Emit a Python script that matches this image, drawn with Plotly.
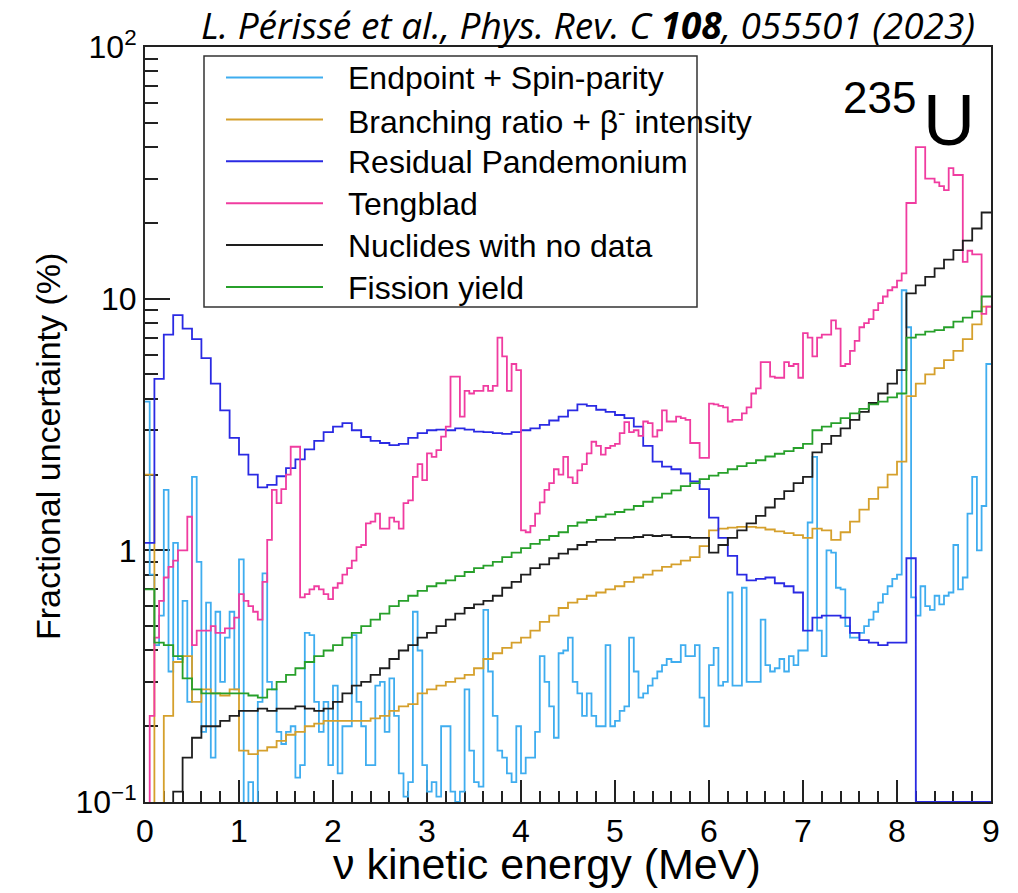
import numpy as np
import plotly.graph_objects as go

# ---------------- data ----------------
E_MAX = 9.0
E_COARSE = np.round(np.arange(0, 9, 0.1), 2)   # lower bin edges, 0.1 MeV bins
E_FINE = np.round(np.arange(0, 9, 0.05), 2)    # lower bin edges, 0.05 MeV bins

ENDPOINT = [
    3.9, 0.8, 0.42, 0.55, 1.74, 0.33, 1.07, 0.37, 0.63, 0.25,
    1.96, 0.9, 0.19, 0.62, 0.15, 0.57, 0.30, 0.45, 0.57, 0.28,
    0.92, 0.09, 0.12, 0.09, 0.25, 0.81, 0.30, 0.28, 0.19, 0.17,
    0.19, 0.20, 0.125, 0.14, 0.47, 0.46, 0.25, 0.19, 0.25, 0.14,
    0.29, 0.13, 0.20, 0.20, 0.46, 0.25, 0.20, 0.14, 0.14, 0.29,
    0.30, 0.19, 0.31, 0.22, 0.13, 0.105, 0.12, 0.57, 0.40, 0.14,
    0.11, 0.12, 0.105, 0.20, 0.20, 0.11, 0.10, 0.11, 0.28, 0.16,
    0.12, 0.115, 0.58, 0.33, 0.22, 0.16, 0.15, 0.13, 0.12, 0.20,
    0.13, 0.15, 0.15, 0.19, 0.38, 0.30, 0.24, 0.18, 0.39, 0.40,
    0.45, 0.30, 0.27, 0.22, 0.27, 0.22, 0.20, 0.20, 0.42, 0.20,
    0.21, 0.23, 0.24, 0.45, 0.33, 0.26, 0.27, 0.29, 0.31, 0.33,
    0.35, 0.37, 0.36, 0.36, 0.42, 0.38, 0.38, 0.42, 0.26, 0.20,
    0.35, 0.41, 0.29, 0.30, 0.68, 0.29, 0.29, 0.71, 0.30, 0.30,
    0.30, 0.53, 0.35, 0.33, 0.34, 0.37, 0.33, 0.38, 0.35, 0.40,
    0.40, 1.29, 2.35, 0.48, 0.38, 1.0, 0.98, 0.71, 0.70, 0.50,
    0.45, 0.45, 0.47, 0.50, 0.53, 0.57, 0.62, 0.67, 0.72, 0.77,
    0.80, 10.8, 7.7, 0.65, 0.55, 0.72, 0.60, 0.58, 0.66, 0.61,
    0.66, 0.68, 1.05, 0.70, 0.78, 1.4, 1.96, 1.0, 1.5, 5.5,
]

BRANCHING = [
    2.00, 0.08, 0.22, 0.36, 0.38, 0.25, 0.28, 0.27, 0.265, 0.28,
    0.16, 0.155, 0.16, 0.165, 0.175, 0.185, 0.19, 0.20, 0.205, 0.21,
    0.21, 0.21, 0.21, 0.21, 0.215, 0.22, 0.23, 0.24, 0.245, 0.27,
    0.28, 0.29, 0.30, 0.31, 0.32, 0.34, 0.37, 0.39, 0.41, 0.43,
    0.45, 0.48, 0.52, 0.55, 0.59, 0.62, 0.64, 0.66, 0.68, 0.70,
    0.72, 0.75, 0.78, 0.80, 0.83, 0.86, 0.88, 0.91, 0.94, 1.04,
    1.20, 1.22, 1.23, 1.24, 1.24, 1.23, 1.21, 1.19, 1.17, 1.15,
    1.12, 1.22, 1.20, 1.10, 1.18, 1.30, 1.45, 1.60, 1.78, 2.00,
    2.25, 4.10, 4.60, 5.00, 5.30, 5.70, 6.20, 6.90, 7.90, 9.30,
]

RESIDUAL = [
    1.07, 4.8, 7.2, 8.6, 7.6, 6.9, 5.8, 4.6, 3.6, 2.8,
    2.4, 2.0, 1.78, 1.82, 1.97, 2.12, 2.30, 2.52, 2.72, 2.95,
    3.10, 3.20, 3.00, 2.82, 2.72, 2.67, 2.62, 2.65, 2.80, 2.92,
    3.00, 3.02, 3.00, 3.05, 3.02, 2.96, 2.95, 2.92, 2.90, 2.95,
    3.00, 3.05, 3.15, 3.28, 3.40, 3.60, 3.80, 3.75, 3.62, 3.55,
    3.45, 3.35, 3.10, 2.60, 2.25, 2.15, 2.10, 2.02, 1.88, 1.75,
    1.35, 1.12, 0.95, 0.80, 0.76, 0.77, 0.78, 0.74, 0.72, 0.68,
    0.48, 0.54, 0.55, 0.55, 0.54, 0.47, 0.44, 0.43, 0.42, 0.43,
    0.43, 0.93, 0.10, 0.10, 0.10, 0.10, 0.10, 0.10, 0.10, 0.10,
]

TENGBLAD = [
    0.05, 0.22, 0.45, 0.63, 0.78, 0.86, 0.91, 1.0, 1.0, 1.36,
    0.42, 0.48, 0.48, 0.48, 0.50, 0.47, 0.47, 0.49, 0.49, 0.54,
    0.67, 0.63, 0.60, 0.57, 0.53, 0.75, 1.10, 1.74, 1.54, 1.75,
    2.0, 2.58, 2.58, 0.65, 0.67, 0.70, 0.72, 0.70, 0.67, 0.64,
    0.71, 0.74, 0.80, 0.85, 0.91, 1.03, 1.05, 1.28, 1.30, 1.40,
    1.22, 1.22, 1.35, 1.30, 1.22, 1.54, 1.58, 1.96, 2.2, 1.9,
    2.43, 2.35, 2.5, 2.83, 3.1, 4.9, 4.9, 3.4, 4.3, 4.2,
    4.3, 4.3, 4.5, 4.3, 4.5, 7.0, 5.9, 4.3, 5.5, 5.2,
    1.2, 1.18, 1.25, 1.4, 1.55, 1.74, 1.85, 2.1, 2.0, 2.35,
    1.95, 1.85, 2.08, 2.2, 2.43, 2.7, 2.6, 2.4, 2.55, 2.6,
    2.65, 2.92, 3.23, 2.95, 3.0, 2.85, 3.25, 3.2, 2.83, 3.0,
    3.6, 3.25, 3.25, 3.4, 3.35, 3.3, 2.67, 2.67, 2.33, 2.33,
    3.83, 3.8, 3.75, 3.7, 3.25, 3.3, 3.3, 3.5, 3.7, 4.2,
    4.4, 5.6, 5.6, 4.9, 4.85, 4.85, 5.6, 5.4, 5.5, 4.85,
    7.3, 7.0, 5.9, 7.0, 7.2, 7.2, 8.2, 7.6, 5.4, 5.5,
    6.2, 6.8, 7.7, 8.0, 8.3, 9.0, 9.6, 10.2, 10.8, 11.1,
    11.8, 12.6, 24, 24, 40, 40, 30, 30, 29, 28,
    27, 33, 31, 31, 14, 15.5, 15, 15, 8.7, 9.3,
]

NUCLIDES = [
    0.05, 0.05, 0.08, 0.11, 0.15, 0.18, 0.20, 0.20, 0.21, 0.22,
    0.23, 0.23, 0.235, 0.23, 0.235, 0.235, 0.24, 0.235, 0.23, 0.235,
    0.25, 0.27, 0.29, 0.30, 0.32, 0.34, 0.37, 0.40, 0.42, 0.45,
    0.47, 0.50, 0.53, 0.56, 0.59, 0.61, 0.63, 0.66, 0.71, 0.75,
    0.80, 0.85, 0.88, 0.93, 0.97, 1.01, 1.05, 1.08, 1.10, 1.10,
    1.12, 1.12, 1.13, 1.15, 1.14, 1.15, 1.13, 1.13, 1.12, 1.12,
    0.98, 1.05, 1.12, 1.20, 1.28, 1.37, 1.48, 1.60, 1.72, 1.85,
    1.96, 2.45, 2.65, 2.85, 3.05, 3.30, 3.55, 3.85, 4.20, 4.60,
    5.20, 10.5, 11.3, 12.2, 13.2, 14.3, 15.6, 17.0, 19.0, 22.0,
]

FISSION = [
    0.70, 0.43, 0.42, 0.38, 0.31, 0.28, 0.27, 0.27, 0.27, 0.27,
    0.27, 0.265, 0.26, 0.28, 0.30, 0.32, 0.34, 0.36, 0.38, 0.40,
    0.42, 0.45, 0.47, 0.50, 0.53, 0.56, 0.60, 0.63, 0.66, 0.69,
    0.72, 0.74, 0.76, 0.79, 0.82, 0.85, 0.87, 0.90, 0.94, 0.98,
    1.02, 1.06, 1.10, 1.14, 1.18, 1.25, 1.29, 1.32, 1.36, 1.39,
    1.42, 1.45, 1.50, 1.56, 1.62, 1.68, 1.73, 1.80, 1.85, 1.92,
    1.98, 2.03, 2.10, 2.16, 2.22, 2.28, 2.36, 2.42, 2.48, 2.55,
    2.65, 3.00, 3.10, 3.20, 3.35, 3.50, 3.65, 3.80, 3.90, 4.05,
    4.20, 7.00, 7.20, 7.40, 7.50, 7.70, 8.10, 8.40, 8.90, 10.2,
]

SERIES = [
    ("Endpoint + Spin-parity", E_FINE, ENDPOINT, "#3fadef"),
    ("Branching ratio + β<sup>-</sup> intensity", E_COARSE, BRANCHING, "#d5a02c"),
    ("Residual Pandemonium", E_COARSE, RESIDUAL, "#2a2ae3"),
    ("Tengblad", E_FINE, TENGBLAD, "#f03ca0"),
    ("Nuclides with no data", E_COARSE, NUCLIDES, "#1e1e1e"),
    ("Fission yield", E_COARSE, FISSION, "#27a02a"),
]

X_TICKS = list(range(0, 10))
Y_TICKVALS = [0.1, 1, 10, 100]
Y_TICKTEXT = ["10<sup>−1</sup>", "1", "10", "10<sup>2</sup>"]
Y_MINOR = [m * 10.0 ** d for d in (-1, 0, 1) for m in range(2, 10)]

# ---------------- figure ----------------
W, H = 1018, 893
ML, MR, MT, MB = 145, 27, 47, 91
PW, PH = W - ML - MR, H - MT - MB


def px(xp):
    return (xp - ML) / PW


def py(yp):
    return (H - MB - yp) / PH


fig = go.Figure()
for name, edges, vals, color in SERIES:
    xs = list(edges) + [E_MAX]
    ys = list(vals) + [vals[-1]]
    fig.add_trace(go.Scatter(
        x=xs, y=ys, mode="lines", name=name, showlegend=False,
        line=dict(color=color, width=1.8, shape="hv"),
    ))

AX_FONT = "Liberation Sans, Arial, Helvetica, sans-serif"

# legend drawn as a framed box with line samples and labels
LEG_LEFT, LEG_TOP, LEG_RIGHT, LEG_BOTTOM = 204, 56, 697, 307
LEG_ROW0, LEG_DY = 77.5, 41.9
shapes = [dict(type="rect", xref="paper", yref="paper", layer="above",
               x0=px(LEG_LEFT), x1=px(LEG_RIGHT), y0=py(LEG_BOTTOM), y1=py(LEG_TOP),
               line=dict(color="#333333", width=1.5), fillcolor="white")]
annotations = []
for i, (name, _e, _v, color) in enumerate(SERIES):
    yc = LEG_ROW0 + i * LEG_DY
    shapes.append(dict(type="line", xref="paper", yref="paper", layer="above",
                       x0=px(226), x1=px(323), y0=py(yc), y1=py(yc),
                       line=dict(color=color, width=2)))
    annotations.append(dict(xref="paper", yref="paper", x=px(346), y=py(yc + 1),
                            xanchor="left", yanchor="middle", showarrow=False,
                            text=name, font=dict(family=AX_FONT, size=32, color="black")))

annotations += [
    dict(xref="paper", yref="paper", x=px(977), y=py(25),
         xanchor="right", yanchor="middle", showarrow=False,
         text="<i>L. Périssé et al., Phys. Rev. C <b>108</b>, 055501 (2023)</i>",
         font=dict(family="Open Sans, sans-serif", size=37, color="black")),
    dict(xref="paper", yref="paper", x=px(48), y=py(447),
         xanchor="center", yanchor="middle", showarrow=False, textangle=-90,
         text="Fractional uncertainty (%)",
         font=dict(family=AX_FONT, size=34, color="black")),
    dict(xref="paper", yref="paper", x=px(547), y=py(864),
         xanchor="center", yanchor="middle", showarrow=False,
         text="ν kinetic energy (MeV)",
         font=dict(family=AX_FONT, size=43, color="black")),
    dict(xref="paper", yref="paper", x=px(918), y=py(98),
         xanchor="right", yanchor="middle", showarrow=False,
         text="235", font=dict(family=AX_FONT, size=44, color="black")),
    dict(xref="paper", yref="paper", x=px(921), y=py(120),
         xanchor="left", yanchor="middle", showarrow=False,
         text="U", font=dict(family=AX_FONT, size=72, color="black")),
]

fig.update_layout(
    width=W, height=H,
    margin=dict(l=ML, r=MR, t=MT, b=MB),
    paper_bgcolor="white", plot_bgcolor="white",
    font=dict(family=AX_FONT, color="black"),
    showlegend=False,
    xaxis=dict(
        range=[0, 9], tickmode="array", tickvals=X_TICKS,
        ticks="inside", ticklen=22, tickwidth=1.5, tickcolor="#222",
        showline=True, linecolor="#222", linewidth=2, mirror=True,
        showgrid=False, zeroline=False, layer="below traces",
        tickfont=dict(family=AX_FONT, size=32, color="black"),
        minor=dict(dtick=0.2, ticks="inside", ticklen=11, tickwidth=1.5,
                   tickcolor="#222", showgrid=False),
    ),
    yaxis=dict(
        type="log", range=[-1, 2], tickmode="array",
        tickvals=Y_TICKVALS, ticktext=Y_TICKTEXT,
        ticks="inside", ticklen=25, tickwidth=1.5, tickcolor="#222",
        showline=True, linecolor="#222", linewidth=2, mirror=True,
        showgrid=False, zeroline=False, layer="below traces",
        tickfont=dict(family=AX_FONT, size=32, color="black"),
        minor=dict(tickmode="array", tickvals=Y_MINOR, ticks="inside",
                   ticklen=13, tickwidth=1.5, tickcolor="#222", showgrid=False),
    ),
    shapes=shapes,
    annotations=annotations,
)

fig.write_html("out.html")
